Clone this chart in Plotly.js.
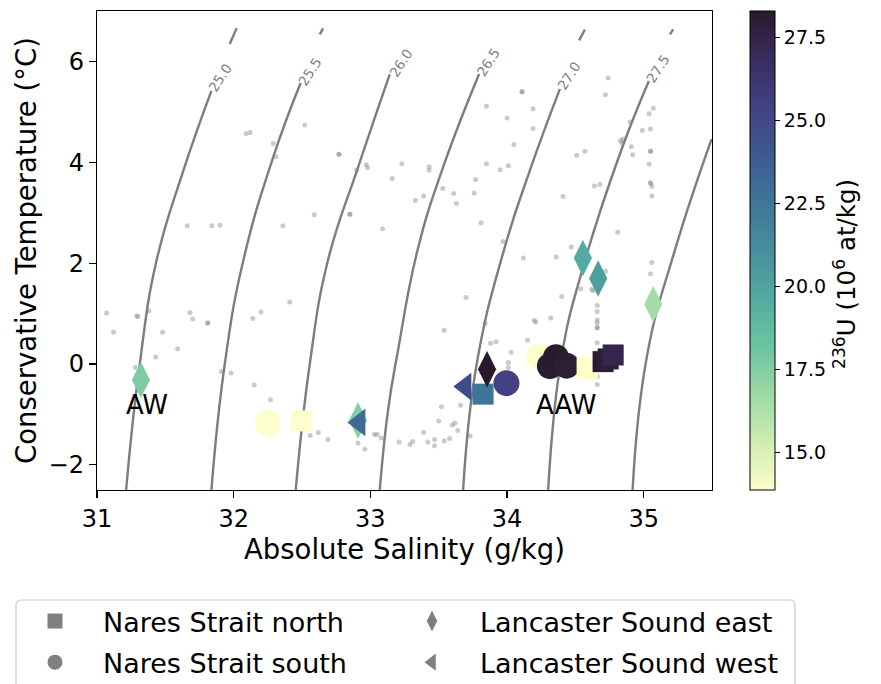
<!DOCTYPE html>
<html>
<head>
<meta charset="utf-8">
<script src="https://cdn.plot.ly/plotly-3.0.1.min.js"></script>
<style>html,body{margin:0;padding:0;background:#fff;}#chart{width:881px;height:684px;}</style>
</head>
<body>
<div id="chart"></div>
<script>
// ---- background CTD samples (gray dots) ----
const dotS = [32.09,32.12,32.29,32.31,32.52,31.66,31.84,31.90,32.36,32.77,
  32.90,32.97,32.98,33.23,33.16,33.43,33.43,33.33,33.39,33.53,
  33.61,33.63,33.76,33.77,33.85,33.95,34.01,33.85,34.00,32.59,
  32.85,33.09,33.81,33.97,34.11,34.19,34.19,34.05,34.74,34.72,
  35.07,35.04,35.05,34.90,34.99,34.83,34.85,34.84,34.91,34.92,
  35.05,34.51,34.57,35.04,35.05,35.06,35.06,34.64,34.68,34.41,
  34.81,34.47,34.36,34.12,31.07,31.12,31.29,31.30,31.38,31.28,
  31.48,31.43,31.59,31.68,31.70,31.81,31.91,31.98,32.14,32.20,
  32.41,32.15,32.27,33.70,33.54,33.84,33.88,33.92,34.01,34.01,
  32.56,32.62,32.69,32.91,32.96,33.03,33.05,33.08,33.21,33.29,
  33.31,33.39,33.42,33.47,33.47,33.54,33.58,33.64,33.60,33.62,
  33.50,33.52,33.66,33.73,35.06,35.05,34.72,34.54,34.62,34.63,
  34.40,34.66,34.66,34.66,34.66,34.66,34.20,34.21,34.32,34.15,
  34.66,34.03,34.66,34.66,
  32.77,32.85,34.11,35.05,35.05,31.81,34.66];
const dotT = [4.57,4.59,4.37,4.11,4.74,2.74,2.74,2.75,2.74,4.16,
  3.84,3.95,3.89,3.97,3.68,3.91,3.84,3.24,3.33,3.48,
  3.38,3.18,3.39,3.66,3.97,3.85,3.93,5.11,4.88,2.96,
  2.97,2.68,2.80,2.43,5.40,5.06,4.67,4.35,5.67,5.34,
  5.07,4.96,4.66,4.80,4.63,4.43,4.46,4.38,4.31,4.15,
  4.22,4.14,4.22,3.96,3.59,3.52,3.33,3.53,3.56,3.32,
  2.61,2.32,2.12,2.10,1.01,0.63,0.95,0.94,1.05,-0.07,
  0.63,0.14,0.30,1.02,0.89,0.81,-0.15,-0.18,0.90,1.03,
  1.23,-0.42,-0.71,1.32,0.67,0.80,0.41,0.44,0.03,-0.07,
  -1.42,-1.36,-1.50,-1.57,-1.69,-1.40,-1.40,-1.47,-1.55,-1.60,
  -1.54,-1.36,-1.55,-1.50,-1.62,-1.53,-1.48,-1.32,-1.21,-1.17,
  -1.13,-0.85,-0.82,-1.43,2.01,1.79,1.84,1.49,1.48,1.45,
  1.34,1.16,1.04,0.87,0.81,0.72,0.86,0.83,0.91,0.47,
  0.42,0.23,-0.25,-0.41,
  4.16,2.97,5.40,4.22,3.59,0.81,0.72];

// ---- isopycnals (sigma0); null = gap under the label ----
const isoLevels = ['25.0','25.5','26.0','26.5','27.0','27.5','28.0'];
const iso250S = [31.213,31.312,31.436,31.632,31.837,null,31.971,32.022];
const iso250T = [-2.5,-0.02,2.055,3.834,5.415,null,6.344,6.660];
const iso255S = [31.837,31.934,32.071,32.293,32.490,null,32.630,32.654];
const iso255T = [-2.5,-0.02,2.055,4.13,5.573,null,6.537,6.654];
const iso260S = [32.454,32.556,32.690,32.910,33.142];
const iso260T = [-2.5,-0.02,2.055,3.899,5.745];
const iso265S = [33.069,33.130,33.203,33.345,33.532,33.796];
const iso265T = [-2.5,-0.909,0.277,2.253,3.899,5.751];
const iso270S = [33.679,33.777,33.977,34.167,34.387,null,34.528,34.570];
const iso270T = [-2.5,-0.02,2.253,3.834,5.455,null,6.417,6.634];
const iso275S = [34.301,34.399,34.550,34.826,35.038,null,35.192,35.216];
const iso275T = [-2.5,0.138,1.858,4.164,5.613,null,6.535,6.634];
const iso280S = [34.919,35.023,35.228,35.497];
const iso280T = [-2.5,0.138,2.253,4.460];
const isoLabelS = [31.898,32.556,33.223,33.863,34.452,35.108];
const isoLabelT = [5.672,5.790,5.968,5.988,5.711,5.860];

// ---- 236U samples by region ----
const southS = [34.235,32.249,33.996,34.314,34.358,34.436];
const southT = [0.144,-1.17,-0.381,-0.040,0.132,-0.034];
const southU = [13.9,13.9,25.4,28.1,28.25,28.0];

const northS = [32.497,33.825,34.586,34.703,34.740,34.777];
const northT = [-1.13,-0.599,-0.092,0.046,0.099,0.178];
const northU = [13.9,22.5,13.9,28.2,27.9,27.3];

const eastS = [31.321,32.910,33.854,34.555,34.667,35.070];
const eastT = [-0.316,-1.121,-0.105,2.100,1.694,1.186];
const eastU = [17.7,17.5,28.3,19.6,20.3,16.5];

const westS = [32.920,33.695];
const westT = [-1.160,-0.449];
const westU = [23.1,24.8];

const cbTicks = [15.0,17.5,20.0,22.5,25.0,27.5];
const waterMasses = [{name:'AW', S:31.364, T:-0.81},{name:'AAW', S:34.434, T:-0.81}];

// cmocean "deep"
const deep = [
  [0.0,'rgb(253,254,204)'],[0.1,'rgb(206,236,179)'],[0.2,'rgb(155,217,164)'],
  [0.3,'rgb(106,197,161)'],[0.4,'rgb(84,170,161)'],[0.5,'rgb(70,143,158)'],
  [0.6,'rgb(63,117,152)'],[0.7,'rgb(62,90,146)'],[0.8,'rgb(66,65,131)'],
  [0.9,'rgb(58,44,95)'],[1.0,'rgb(40,26,44)']];

const FONT = 'DejaVu Sans, Verdana, sans-serif';
const lineStyle = {color:'rgb(125,125,125)', width:2.4, shape:'spline', smoothing:1.3};
const isoS = [iso250S,iso255S,iso260S,iso265S,iso270S,iso275S,iso280S];
const isoT = [iso250T,iso255T,iso260T,iso265T,iso270T,iso275T,iso280T];

const traces = [];
isoS.forEach((s,i)=>{
  traces.push({x:s, y:isoT[i], type:'scatter', mode:'lines', line:lineStyle,
    connectgaps:false, showlegend:false, hoverinfo:'skip', name:'σ '+isoLevels[i]});
});
traces.push({x:dotS, y:dotT, type:'scatter', mode:'markers', showlegend:false,
  marker:{size:5, color:'rgba(128,128,128,0.42)', line:{width:0}}});

function grp(S,T,U,sym,size){
  return {x:S, y:T, type:'scatter', mode:'markers', showlegend:false,
    marker:{symbol:sym, size:size, color:U, coloraxis:'coloraxis', line:{width:0}, opacity:1}};
}
traces.push(grp(southS,southT,southU,'circle',26));
traces.push(grp(northS,northT,northU,'square',21));
traces.push(grp(eastS,eastT,eastU,'diamond-tall',26));
traces.push(grp(westS,westT,westU,'triangle-left',24));

// legend entries (gray), two columns
const legItems = [['Nares Strait north','square','legend'],['Nares Strait south','circle','legend'],
                  ['Lancaster Sound east','diamond-tall','legend2'],['Lancaster Sound west','triangle-left','legend2']];
legItems.forEach(([n,sym,lg],i)=>{
  traces.push({x:[null], y:[null], type:'scatter', mode:'markers', name:n, showlegend:true,
    legend:lg, legendgroup:'g'+i,
    marker:{symbol:sym, size:15, color:'rgb(128,128,128)'}});
});

const PW = 615, PH = 479;
const annotations = [];
isoLabelS.forEach((s,i)=>{
  annotations.push({x:s, y:isoLabelT[i], xref:'x', yref:'y', text:isoLevels[i], showarrow:false,
    textangle:-57, font:{family:FONT, size:13.5, color:'rgb(125,125,125)'}});
});
waterMasses.forEach(w=>{
  annotations.push({x:w.S, y:w.T, xref:'x', yref:'y', text:w.name, showarrow:false,
    font:{family:FONT, size:26, color:'black'}});
});
// colour-bar label
annotations.push({x:(845-97)/PW, y:(490-274)/PH, xref:'paper', yref:'paper', showarrow:false,
  text:'<sup>236</sup>U (10<sup>6</sup> at/kg)', textangle:-90, xanchor:'center', yanchor:'middle',
  font:{family:FONT, size:24.5, color:'black'}});

// legend frame (px converted to paper fractions of the 615x479 plot area)
const fx0 = (16-97)/PW, fx1 = (795-97)/PW, fy0 = (490-600)/PH, fy1 = (490-720)/PH;
const rx = 5/PW, ry = 5/PH;
const framePath = `M ${fx0+rx},${fy0} L ${fx1-rx},${fy0} Q ${fx1},${fy0} ${fx1},${fy0-ry} L ${fx1},${fy1} L ${fx0},${fy1} L ${fx0},${fy0-ry} Q ${fx0},${fy0} ${fx0+rx},${fy0} Z`;

const legCommon = {orientation:'v', xanchor:'left', yanchor:'top', font:{size:27, family:FONT},
  borderwidth:0, bgcolor:'rgba(0,0,0,0)', itemwidth:86, traceorder:'grouped', tracegroupgap:3};

const layout = {
  width:881, height:684,
  margin:{l:97, r:169, t:11, b:194, autoexpand:false},
  paper_bgcolor:'white', plot_bgcolor:'white',
  font:{family:FONT, color:'black'},
  xaxis:{range:[31,35.5], tick0:31, dtick:1, ticks:'outside', ticklen:7, tickwidth:1.2,
    tickcolor:'black', showline:true, linecolor:'black', linewidth:1.2, mirror:true,
    showgrid:false, zeroline:false, tickfont:{size:24, family:FONT},
    title:{text:'Absolute Salinity (g/kg)', font:{size:27.5, family:FONT}, standoff:6}},
  yaxis:{range:[-2.5,7], tickvals:[-2,0,2,4,6], ticks:'outside', ticklen:7, tickwidth:1.2,
    tickcolor:'black', showline:true, linecolor:'black', linewidth:1.2, mirror:true,
    showgrid:false, zeroline:false, tickfont:{size:24, family:FONT},
    title:{text:'Conservative Temperature (°C)', font:{size:27.5, family:FONT}, standoff:4}},
  coloraxis:{colorscale:deep, cmin:13.86, cmax:28.3,
    colorbar:{x:1.0618, xanchor:'left', xpad:0, ypad:0, y:0.5, yanchor:'middle', len:1, lenmode:'fraction',
      thickness:25, thicknessmode:'pixels', outlinewidth:1, outlinecolor:'black',
      ticks:'outside', ticklen:5, tickcolor:'black', tickvals:cbTicks, ticktext:cbTicks.map(v=>v.toFixed(1)),
      tickfont:{size:19, family:FONT}}},
  legend:Object.assign({x:(7-97)/PW, y:(490-597)/PH}, legCommon),
  legend2:Object.assign({x:(384-97)/PW, y:(490-597)/PH}, legCommon),
  shapes:[{type:'path', xref:'paper', yref:'paper', path:framePath,
    line:{color:'#cccccc', width:1.2}, fillcolor:'white', layer:'below'}],
  annotations:annotations,
  showlegend:true
};

Plotly.newPlot('chart', traces, layout, {displayModeBar:false, staticPlot:true});
</script>
</body>
</html>
